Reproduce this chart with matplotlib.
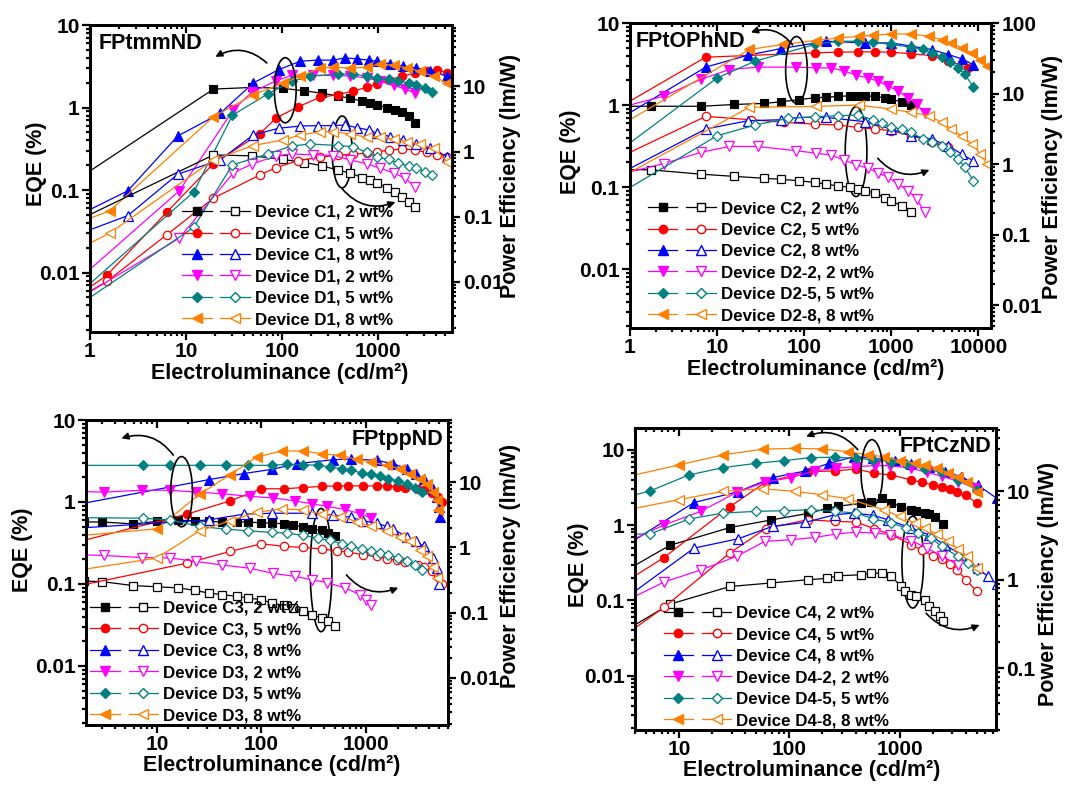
import matplotlib
matplotlib.use("Agg")
import matplotlib.pyplot as plt
import numpy as np
from matplotlib.legend_handler import HandlerTuple
from matplotlib.lines import Line2D
from matplotlib.patches import Ellipse
from matplotlib.ticker import FixedLocator, FuncFormatter, LogLocator, NullFormatter

plt.rcParams["font.family"] = ["Liberation Sans", "DejaVu Sans"]
plt.rcParams["font.weight"] = "bold"
plt.rcParams["axes.labelweight"] = "bold"

nan = np.nan

# ---- FPtmmND (top left) ----
tmm_labels = ["Device C1, 2 wt%", "Device C1, 5 wt%", "Device C1, 8 wt%",
              "Device D1, 2 wt%", "Device D1, 5 wt%", "Device D1, 8 wt%"]
tmm_c1_2_lum = [0.5, 19.3, 49, 101, 170, 258, 377, 511, 676, 830, 970, 1230, 1500, 1770, 2080, 2430]
tmm_c1_2_eqe = [0.1, 1.68, 1.76, 1.72, 1.6, 1.5, 1.39, 1.30, 1.2, 1.13, 1.08, 1.0, 0.94, 0.88, 0.80, 0.66]
tmm_c1_2_pe = [0.066, 0.89, 0.86, 0.76, 0.68, 0.61, 0.52, 0.47, 0.40, 0.37, 0.33, 0.28, 0.24, 0.20, 0.17, 0.14]
tmm_c1_5_lum = [0.5, 1.5, 6.3, 19.3, 59, 87, 148, 250, 377, 553, 760, 970, 1290, 1750, 2400, 3200, 4100, 5240]
tmm_c1_5_eqe = [0.0038, 0.0093, 0.054, 0.21, 0.485, 0.755, 1.03, 1.34, 1.43, 1.6, 1.76, 1.93, 2.18, 2.4, 2.63, 2.81, 2.89, 2.63]
tmm_c1_5_pe = [0.004, 0.0102, 0.053, 0.193, 0.44, 0.57, 0.73, 0.82, 0.88, 0.92, 0.94, 1.0, 1.04, 1.1, 1.06, 0.97, 0.9, 0.82]
tmm_c1_8_lum = [0.5, 2.47, 8.2, 22.6, 50, 92, 155, 234, 342, 454, 600, 795, 970, 1330, 1830, 2500, 3470, 5240]
tmm_c1_8_eqe = [0.039, 0.098, 0.454, 0.85, 1.99, 2.89, 3.66, 3.77, 3.77, 4.02, 3.9, 3.77, 3.66, 3.39, 3.18, 3.03, 2.81, 2.4]
tmm_c1_8_pe = [0.043, 0.104, 0.45, 0.745, 1.8, 2.28, 2.47, 2.5, 2.5, 2.56, 2.33, 2.15, 1.91, 1.70, 1.51, 1.31, 1.12, 0.84]
tmm_d1_2_lum = [0.5, 8.5, 31, 48, 87, 126, 212, 342, 511, 760, 1050, 1450, 1900, 2430]
tmm_d1_2_eqe = [0.0054, 0.098, 0.94, 1.53, 2.12, 2.47, 2.46, 2.46, 2.42, 2.29, 2.08, 1.86, 1.69, 1.5]
tmm_d1_2_pe = [0.0038, 0.047, 0.47, 0.64, 0.86, 0.92, 0.89, 0.87, 0.745, 0.65, 0.556, 0.47, 0.39, 0.29]
tmm_d1_5_lum = [0.5, 12, 30.4, 71, 126, 196, 377, 553, 760, 970, 1290, 1600, 2080, 2500, 3090, 3600]
tmm_d1_5_eqe = [0.0036, 0.095, 0.81, 1.47, 2.08, 2.4, 2.56, 2.56, 2.4, 2.29, 2.2, 2.1, 1.99, 1.86, 1.72, 1.53]
tmm_d1_5_pe = [0.0029, 0.0687, 0.625, 0.92, 1.22, 1.31, 1.24, 1.19, 0.97, 0.82, 0.76, 0.66, 0.61, 0.556, 0.49, 0.44]
tmm_d1_8_lum = [0.5, 1.6, 19.3, 50, 103, 155, 250, 342, 511, 760, 1050, 1450, 1990, 2740, 3770, 5240]
tmm_d1_8_eqe = [0.034, 0.0558, 0.776, 1.43, 1.99, 2.4, 3.03, 3.09, 3.03, 3.09, 3.39, 3.27, 3.03, 2.76, 2.4, 1.99]
tmm_d1_8_pe = [0.0235, 0.056, 0.745, 1.24, 1.51, 1.8, 2.02, 2.02, 1.86, 1.66, 1.70, 1.55, 1.42, 1.31, 1.12, 0.70]

# ---- FPtOPhND (top right) ----
oph_labels = ["Device C2, 2 wt%", "Device C2, 5 wt%", "Device C2, 8 wt%",
              "Device D2-2, 2 wt%", "Device D2-5, 5 wt%", "Device D2-8, 8 wt%"]
oph_c2_2_lum = [0.8, 1.73, 6.6, 15.8, 35, 54, 88, 132, 179, 245, 333, 415, 495, 646, 841, 1000, 1310, 1700]
oph_c2_2_eqe = [0.97, 0.97, 0.97, 1.02, 1.05, 1.1, 1.17, 1.23, 1.25, 1.28, 1.3, 1.3, 1.3, 1.28, 1.23, 1.18, 1.1, 1.0]
oph_c2_2_pe = [0.84, 0.83, 0.72, 0.67, 0.63, 0.61, 0.58, 0.55, 0.52, 0.49, 0.47, 0.44, 0.42, 0.39, 0.336, 0.30, 0.256, 0.206]
oph_c2_5_lum = [0.5, 7.4, 24.5, 59, 132, 245, 415, 646, 1000, 1700, 2900, 4520, 7670]
oph_c2_5_eqe = [0.73, 3.85, nan, nan, 4.35, 4.43, 4.47, 4.47, 4.43, 4.23, 4.03, 3.44, 2.85]
oph_c2_5_pe = [0.98, 4.76, 4.27, 3.91, 3.7, 3.59, 3.32, 3.15, 2.98, 2.53, 2.08, 1.75, nan]
oph_c2_8_lum = [0.5, 7.4, 22.5, 54, 88, 179, 495, 1000, 1700, 2900, 4520, 6450, 8730]
oph_c2_8_eqe = [0.52, 2.91, 4.07, 4.9, nan, 6.03, 5.75, 5.75, 5.25, 4.77, 4.15, 3.67, 3.13]
oph_c2_8_pe = [0.555, 3.15, 4.13, 4.27, 4.61, 4.61, 4.0, 3.15, 2.53, 2.27, 1.82, 1.39, 1.11]
oph_d2_2_lum = [0.5, 2.46, 6.5, 13.8, 29.3, 81, 137, 204, 290, 397, 540, 705, 920, 1200, 1560, 1950, 2430]
oph_d2_2_eqe = [0.83, 1.29, 2.06, 2.72, 2.91, 2.91, 2.85, 2.85, 2.6, 2.32, 2.15, 1.96, 1.71, 1.48, 1.23, 1.02, 0.81]
oph_d2_2_pe = [0.63, 1.02, 1.47, 1.78, 1.78, 1.55, 1.43, 1.34, 1.14, 0.98, 0.87, 0.76, 0.65, 0.52, 0.42, 0.32, 0.206]
oph_d2_5_lum = [0.5, 10, 27.3, 65, 132, 245, 415, 617, 773, 1000, 1310, 1700, 2300, 2900, 3780, 4700, 5870, 7020, 8730]
oph_d2_5_eqe = [0.2, 2.15, 3.44, nan, 5.5, 6.03, 6.03, 5.87, nan, 5.5, nan, 5.1, 4.78, 4.35, 3.85, 3.38, 2.85, 2.37, 1.66]
oph_d2_5_pe = [0.28, 2.53, 3.59, 4.46, 4.7, 4.87, 4.97, 4.27, 3.83, 3.32, 3.15, 2.82, 2.27, 2.03, 1.82, 1.5, 1.18, 0.9, 0.58]
oph_d2_8_lum = [0.5, 23.5, 57, 135, 245, 425, 617, 1000, 1700, 2700, 3780, 4870, 6450, 8400, 10500, 12500]
oph_d2_8_eqe = [0.43, 4.78, 5.5, 6.15, 6.6, 6.9, 7.14, 7.4, 7.4, 6.9, 6.3, 5.75, 5.0, 4.35, 3.6, 2.99]
oph_d2_8_pe = [0.48, 6.4, nan, 6.6, nan, 6.9, nan, 6.03, 5.43, 4.9, 3.9, 3.2, 2.5, 1.95, 1.4, 1.0]

# ---- FPtppND (bottom left) ----
pp_labels = ["Device C3, 2 wt%", "Device C3, 5 wt%", "Device C3, 8 wt%",
             "Device D3, 2 wt%", "Device D3, 5 wt%", "Device D3, 8 wt%"]
pp_c3_2_lum = [2.0, 2.98, 5.98, 10, 16.1, 23.2, 31.2, 41.8, 58, 75, 100, 126, 163, 202, 252, 302, 377, 437, 505]
pp_c3_2_eqe = [0.57, 0.57, 0.54, 0.58, 0.6, 0.59, 0.58, 0.57, 0.57, 0.57, 0.555, 0.555, 0.54, 0.52, 0.5, 0.47, 0.45, 0.42, 0.38]
pp_c3_2_pe = [0.305, 0.30, 0.26, 0.25, 0.24, 0.22, 0.2, 0.19, 0.178, 0.168, 0.158, 0.14, 0.13, 0.118, 0.105, 0.093, 0.083, 0.074, 0.062]
pp_c3_5_lum = [1.5, 19.4, 50, 100, 163, 252, 377, 525, 676, 944, 1260, 1575, 1955, 2350, 3100, 3540, 4270, 4900, 5280]
pp_c3_5_eqe = [0.31, 0.71, 1.03, 1.45, 1.45, 1.5, 1.55, 1.57, 1.57, 1.57, 1.57, 1.57, 1.52, 1.5, 1.45, 1.39, 1.29, 1.15, 1.0]
pp_c3_5_pe = [0.244, 0.575, 0.87, 1.14, 1.04, 1.0, 0.95, 0.89, 0.85, 0.77, 0.73, 0.67, 0.64, 0.6, 0.54, 0.5, 0.43, 0.35, 0.28]
pp_c3_8_lum = [1.5, 31.2, 67.4, 126, 218, 302, 487, 710, 944, 1260, 1575, 1820, 2440, 3030, 3540, 4360, 4730, 5000, 5100]
pp_c3_8_eqe = [0.9, 1.87, 2.22, 2.5, 2.93, nan, 3.28, 3.34, nan, 3.22, nan, 2.93, 2.55, 2.22, 1.9, 1.45, 1.15, 0.87, 0.66]
pp_c3_8_pe = [1.95, 2.65, 3.24, 3.35, nan, 3.35, 3.16, 2.91, 2.56, 2.36, 2.1, 1.9, 1.47, 1.24, 1.04, 0.69, 0.48, 0.28, nan]
pp_d3_2_lum = [1.5, 3.1, 7.2, 13.4, 23.8, 41.8, 78, 130, 210, 302, 420, 630, 870, 1000, 1110]
pp_d3_2_eqe = [1.35, 1.32, 1.39, 1.39, 1.32, 1.26, 1.17, 1.12, 1.03, 0.95, 0.885, 0.81, 0.72, nan, 0.64]
pp_d3_2_pe = [0.78, 0.755, 0.70, 0.69, 0.61, 0.54, 0.48, 0.40, 0.36, 0.32, 0.29, 0.24, 0.19, 0.158, 0.13]
pp_d3_5_lum = [1.5, 7.3, 13.4, 25.6, 45.7, 75, 126, 175, 252, 350, 453, 588, 725, 910, 1120, 1350, 1620, 2030, 2440, 2940, 3400]
pp_d3_5_eqe = [2.8, 2.8, 2.8, 2.8, 2.8, 2.8, 2.8, 2.88, 2.85, 2.8, 2.67, 2.55, 2.43, 2.26, 2.17, 2.06, 1.93, 1.8, 1.64, 1.48, 1.32]
pp_d3_5_pe = [2.88, 2.81, 2.65, 2.1, 1.91, 1.8, 1.7, 1.66, 1.53, 1.39, 1.28, 1.14, 1.04, 0.95, 0.89, 0.82, 0.77, 0.69, 0.61, 0.54, 0.455]
pp_d3_8_lum = [1.5, 10, 25.6, 50, 90, 156, 252, 377, 565, 810, 1120, 1575, 2110, 2630, 3280, 3800, 4360, 4730, 4900]
pp_d3_8_eqe = [0.38, 0.47, 1.24, 2.15, 3.54, 4.19, 4.19, 3.88, 3.71, 3.31, 3.07, 2.8, 2.55, 2.22, 1.93, 1.67, 1.32, 1.05, 0.79]
pp_d3_8_pe = [0.43, 0.69, 1.8, 2.56, 3.47, 3.91, 3.77, 3.24, 2.98, 2.5, 2.1, 1.76, 1.47, 1.24, 0.92, 0.73, 0.51, 0.34, nan]

# ---- FPtCzND (bottom right) ----
cz_labels = ["Device C4, 2 wt%", "Device C4, 5 wt%", "Device C4, 8 wt%",
             "Device D4-2, 2 wt%", "Device D4-5, 5 wt%", "Device D4-8, 8 wt%"]
cz_c4_2_lum = [3, 8.3, 29.1, 68.1, 147, 222, 277, 447, 550, 692, 840, 1035, 1110, 1280, 1420, 1690, 1860, 2090, 2300, 2470]
cz_c4_2_eqe = [0.23, 0.54, 0.93, 1.17, 1.43, 1.67, 1.79, 1.94, 2.05, 2.27, 2.0, 1.75, nan, 1.58, 1.54, 1.47, 1.39, 1.29, nan, 1.05]
cz_c4_2_pe = [0.25, 0.53, 0.84, 0.92, 1.0, 1.04, 1.11, 1.14, 1.19, 1.19, 1.09, 0.84, 0.74, 0.68, 0.65, 0.59, 0.5, 0.44, 0.385, 0.34]
cz_c4_5_lum = [3, 7.3, 28.8, 61, 147, 259, 403, 590, 840, 1280, 1600, 2000, 2400, 2850, 3300, 4000, 5000]
cz_c4_5_eqe = [0.163, 0.37, 1.75, 3.71, 5.14, 5.25, 5.58, 4.89, 4.64, 3.98, 3.71, 3.41, 3.24, 2.99, 2.78, 2.51, 1.94]
cz_c4_5_pe = [0.22, 0.486, 2.0, 3.78, 4.78, 4.57, 4.5, 3.78, 3.23, 2.49, 2.15, 1.85, 1.7, 1.5, 1.3, 1.0, 0.74]
cz_c4_8_lum = [3, 13.7, 34.4, 70.6, 140, 231, 259, 390, 580, 780, 900, 1280, 1830, 2570, 3620, 5100, 6300, 7600]
cz_c4_8_eqe = [0.49, 2.0, 2.78, 4.28, 5.25, 6.64, nan, 8.15, 7.74, nan, 7.13, 6.44, 6.0, 5.14, 4.4, 3.41, nan, 2.27]
cz_c4_8_pe = [0.57, 2.28, 2.91, 4.02, 4.46, nan, 5.44, 5.69, 5.35, 4.78, nan, 3.85, 3.23, 2.49, 1.92, 1.36, 1.09, 0.89]
cz_d4_2_lum = [3, 7.3, 16, 33.4, 60, 104, 170, 265, 403, 600, 820, 1280, 1760, 2400, 3390, 4800]
cz_d4_2_eqe = [0.55, 1.0, 1.54, 2.73, 3.71, 4.28, 5.25, 5.7, 6.0, 6.18, 6.18, 5.7, 5.04, 4.5, 3.8, 3.15]
cz_d4_2_pe = [0.545, 0.94, 1.3, 1.84, 2.72, 2.84, 3.01, 3.29, 3.46, 3.38, 3.25, 2.76, 2.3, 1.85, 1.48, nan]
cz_d4_5_lum = [3, 5.45, 12.3, 25.1, 50.5, 90, 157, 259, 403, 580, 840, 1150, 1470, 1690, 1940, 2400, 3390, 4170, 5000]
cz_d4_5_eqe = [2.27, 2.84, 4.64, 5.81, 6.64, 7.2, 7.9, 7.98, 7.74, 7.36, 6.98, 6.44, nan, 5.58, nan, 5.04, 3.98, nan, 2.93]
cz_d4_5_pe = [3.29, 3.29, 4.86, 5.69, 5.94, 6.04, 6.2, 5.94, 5.69, 4.9, 4.38, 3.85, 3.38, nan, 2.96, 2.38, 1.84, 1.55, 1.3]
cz_d4_8_lum = [3, 10, 25.1, 57.3, 113, 197, 340, 515, 715, 1000, 1370, 1690, 2160, 2750, 3390, 4040, 5000]
cz_d4_8_eqe = [4.24, 6.3, 8.58, 10.2, 10.5, 10.3, 9.5, 8.58, 8.15, 7.2, 6.7, 6.3, 5.8, 4.89, 4.4, 3.8, 2.78]
cz_d4_8_pe = [6.0, 8.05, 10.0, 10.7, 10.0, 9.17, 8.26, nan, 6.2, 5.21, 4.38, 3.85, 3.3, 2.72, 2.24, 1.88, 1.36]

COLORS = ["black", "#FF0000", "#0000FF", "#FF00FF", "#008080", "#FF8000"]
MARKERS = ["s", "o", "^", "v", "D", "<"]
SIZES = [5.5, 6, 6.8, 6.8, 5.5, 6.8]


def plain(value, _pos):
    return f"{value:g}"


def log_ticks(axis, majors):
    axis.set_major_locator(FixedLocator(majors))
    axis.set_major_formatter(FuncFormatter(plain))
    axis.set_minor_locator(LogLocator(base=10, subs=np.arange(2, 10), numticks=30))
    axis.set_minor_formatter(NullFormatter())


def style_ticks(axis, direction, **extra):
    axis.tick_params(which="both", direction=direction, width=1.6, **extra)
    axis.tick_params(which="major", length=6)
    axis.tick_params(which="minor", length=3)


def draw_panel(fig, rect, name, name_xy, name_ha, devices, labels, xlim, eqe_lim,
               pe_lim, xt, eqe_t, pe_t, ellipses, arrows, legend_anchor, label_xy):
    ax = fig.add_axes(rect)
    twin = ax.twinx()
    for axis in (ax, twin):
        axis.set_xscale("log")
        axis.set_yscale("log")
        for spine in axis.spines.values():
            spine.set_linewidth(2)
    ax.set_xlim(*xlim)
    ax.set_ylim(*eqe_lim)
    twin.set_ylim(*pe_lim)
    log_ticks(ax.xaxis, xt)
    log_ticks(ax.yaxis, eqe_t)
    log_ticks(twin.yaxis, pe_t)
    style_ticks(ax, "out", labelsize=15)
    ax.tick_params(axis="y", pad=1.5)
    ax.tick_params(axis="x", pad=1.0)
    style_ticks(twin, "out", labelsize=15, pad=1.5)
    top = ax.secondary_xaxis("top")
    log_ticks(top.xaxis, xt)
    style_ticks(top, "in", labeltop=False)
    top.spines["top"].set_linewidth(2)

    handles = []
    for (lum, eqe, pe), color, marker, size in zip(devices, COLORS, MARKERS, SIZES):
        lum = np.asarray(lum, dtype=float)
        eqe = np.asarray(eqe, dtype=float)
        pe = np.asarray(pe, dtype=float)
        ok = np.isfinite(eqe)
        ax.plot(lum[ok], eqe[ok], color=color, marker=marker, ms=size, lw=0.9,
                mfc=color, mec=color, mew=0.8)
        ok = np.isfinite(pe)
        twin.plot(lum[ok], pe[ok], color=color, marker=marker, ms=size, lw=0.9,
                  mfc="white", mec=color, mew=0.9)
        handles.append((
            Line2D([], [], color=color, marker=marker, ms=size, lw=0.9, mfc=color, mec=color),
            Line2D([], [], color=color, marker=marker, ms=size, lw=0.9, mfc="white", mec=color)))

    (xl_x, xl_y), (yl_x, yl_y), (pl_x, pl_y) = label_xy
    ax.set_xlabel("Electroluminance (cd/m²)", fontsize=15.5, fontweight="bold")
    ax.set_ylabel("EQE (%)", fontsize=15.5, fontweight="bold")
    twin.set_ylabel("Power Efficiency (lm/W)", fontsize=15.5, fontweight="bold")
    ax.xaxis.set_label_coords(xl_x, xl_y)
    ax.yaxis.set_label_coords(yl_x, yl_y)
    twin.yaxis.set_label_coords(pl_x, pl_y)
    twin.text(name_xy[0], name_xy[1], name, transform=twin.transAxes, fontsize=15.5,
              fontweight="bold", ha=name_ha, va="top")

    for cx, cy, w, h in ellipses:
        twin.add_patch(Ellipse((cx, cy), w, h, transform=twin.transAxes, fill=False,
                               ec="black", lw=1.2))
    for start, end in arrows:
        twin.annotate("", xy=end, xytext=start, xycoords="axes fraction",
                      textcoords="axes fraction",
                      arrowprops=dict(arrowstyle="-|>", color="black", lw=1.2,
                                      connectionstyle="arc3,rad=0.35",
                                      mutation_scale=10, shrinkA=0, shrinkB=0))

    twin.legend(handles, labels, handler_map={tuple: HandlerTuple(ndivide=None, pad=0.5)},
                loc="lower left", bbox_to_anchor=legend_anchor, frameon=False,
                prop={"size": 12.2, "weight": "bold"}, handlelength=4.0,
                handletextpad=0.3, labelspacing=0.38, borderpad=0.2, borderaxespad=0)


fig = plt.figure(figsize=(10.88, 7.87), dpi=100)

draw_panel(
    fig, [0.0827, 0.578, 0.333, 0.390], "FPtmmND", (0.023, 0.975), "left",
    [(tmm_c1_2_lum, tmm_c1_2_eqe, tmm_c1_2_pe), (tmm_c1_5_lum, tmm_c1_5_eqe, tmm_c1_5_pe),
     (tmm_c1_8_lum, tmm_c1_8_eqe, tmm_c1_8_pe), (tmm_d1_2_lum, tmm_d1_2_eqe, tmm_d1_2_pe),
     (tmm_d1_5_lum, tmm_d1_5_eqe, tmm_d1_5_pe), (tmm_d1_8_lum, tmm_d1_8_eqe, tmm_d1_8_pe)],
    tmm_labels, (1, 5900), (0.0019, 10), (0.0017, 87),
    [1, 10, 100, 1000], [0.01, 0.1, 1, 10], [0.01, 0.1, 1, 10],
    [(0.539, 0.788, 0.06, 0.212), (0.696, 0.587, 0.055, 0.234)],
    [((0.488, 0.877), (0.346, 0.897)), ((0.696, 0.467), (0.843, 0.424))],
    (0.245, 0.005),
    ((0.525, -0.1), (-0.119, 0.547), (1.133, 0.51)))

draw_panel(
    fig, [0.579, 0.583, 0.332, 0.3875], "FPtOPhND", (0.016, 0.975), "left",
    [(oph_c2_2_lum, oph_c2_2_eqe, oph_c2_2_pe), (oph_c2_5_lum, oph_c2_5_eqe, oph_c2_5_pe),
     (oph_c2_8_lum, oph_c2_8_eqe, oph_c2_8_pe), (oph_d2_2_lum, oph_d2_2_eqe, oph_d2_2_pe),
     (oph_d2_5_lum, oph_d2_5_eqe, oph_d2_5_pe), (oph_d2_8_lum, oph_d2_8_eqe, oph_d2_8_pe)],
    oph_labels, (1, 14000), (0.0019, 10), (0.0047, 100),
    [1, 10, 100, 1000, 10000], [0.01, 0.1, 1, 10], [0.01, 0.1, 1, 10, 100],
    [(0.461, 0.847, 0.06, 0.219), (0.626, 0.579, 0.06, 0.295)],
    [((0.45, 0.929), (0.335, 0.97)), ((0.686, 0.557), (0.829, 0.519))],
    (0.04, 0.005),
    ((0.515, -0.102), (-0.136, 0.577), (1.141, 0.495)))

draw_panel(
    fig, [0.079, 0.0788, 0.333, 0.3875], "FPtppND", (0.986, 0.97), "right",
    [(pp_c3_2_lum, pp_c3_2_eqe, pp_c3_2_pe), (pp_c3_5_lum, pp_c3_5_eqe, pp_c3_5_pe),
     (pp_c3_8_lum, pp_c3_8_eqe, pp_c3_8_pe), (pp_d3_2_lum, pp_d3_2_eqe, pp_d3_2_pe),
     (pp_d3_5_lum, pp_d3_5_eqe, pp_d3_5_pe), (pp_d3_8_lum, pp_d3_8_eqe, pp_d3_8_pe)],
    pp_labels, (2.1, 6100), (0.0019, 10), (0.0019, 90),
    [10, 100, 1000], [0.01, 0.1, 1, 10], [0.01, 0.1, 1, 10],
    [(0.264, 0.765, 0.06, 0.23), (0.649, 0.508, 0.06, 0.404)],
    [((0.241, 0.885), (0.098, 0.94)), ((0.719, 0.492), (0.862, 0.45))],
    (0.003, -0.005),
    ((0.514, -0.1), (-0.146, 0.574), (1.144, 0.52)))

draw_panel(
    fig, [0.5836, 0.0724, 0.332, 0.3837], "FPtCzND", (0.986, 0.975), "right",
    [(cz_c4_2_lum, cz_c4_2_eqe, cz_c4_2_pe), (cz_c4_5_lum, cz_c4_5_eqe, cz_c4_5_pe),
     (cz_c4_8_lum, cz_c4_8_eqe, cz_c4_8_pe), (cz_d4_2_lum, cz_d4_2_eqe, cz_d4_2_pe),
     (cz_d4_5_lum, cz_d4_5_eqe, cz_d4_5_pe), (cz_d4_8_lum, cz_d4_8_eqe, cz_d4_8_pe)],
    cz_labels, (4, 7500), (0.0019, 19.5), (0.02, 52),
    [10, 100, 1000], [0.01, 0.1, 1, 10], [0.1, 1, 10],
    [(0.656, 0.851, 0.06, 0.221), (0.769, 0.556, 0.06, 0.304)],
    [((0.617, 0.928), (0.474, 0.972)), ((0.806, 0.387), (0.954, 0.348))],
    (0.07, -0.005),
    ((0.49, -0.1), (-0.127, 0.546), (1.116, 0.483)))

fig.savefig("out.png", dpi=100)
